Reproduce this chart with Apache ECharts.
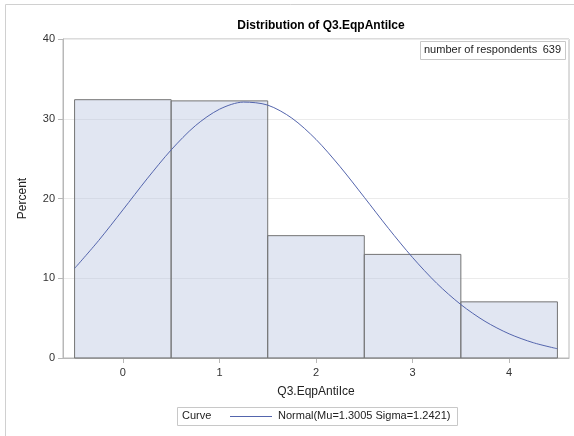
<!DOCTYPE html>
<html>
<head>
<meta charset="utf-8">
<script src="https://cdn.jsdelivr.net/npm/echarts@6/dist/echarts.min.js"></script>
<style>html,body{margin:0;padding:0;background:#fff}#c{width:574px;height:436px}</style>
</head>
<body>
<div id="c"></div>
<script>
var titleText = 'Distribution of Q3.EqpAntiIce';
var xTitle = 'Q3.EqpAntiIce';
var yTitle = 'Percent';
var categories = [0, 1, 2, 3, 4];
var percents = [32.39, 32.24, 15.34, 12.99, 7.04];
var curveX = [-0.5, -0.25, 0, 0.25, 0.5, 0.75, 1, 1.25, 1.5, 1.75, 2, 2.25, 2.5, 2.75, 3, 3.25, 3.5, 3.75, 4, 4.25, 4.5];
var curveY = [11.23, 14.74, 18.57, 22.46, 26.09, 29.12, 31.19, 32.09, 31.71, 30.08, 27.41, 23.98, 20.15, 16.26, 12.60, 9.37, 6.70, 4.60, 3.03, 1.92, 1.16];
var yTicks = [0, 10, 20, 30, 40];
var insetLabel = 'number of respondents';
var insetValue = '639';
var legendTitle = 'Curve';
var curveName = 'Normal(Mu=1.3005 Sigma=1.2421)';

var font = 'Liberation Sans, Arial, sans-serif';
var chart = echarts.init(document.getElementById('c'), null, {renderer: 'canvas'});

var barData = categories.map(function (c, i) { return [c, percents[i]]; });
var curveData = curveX.map(function (x, i) { return [x, curveY[i]]; });

chart.setOption({
  animation: false,
  backgroundColor: '#fff',
  title: {
    text: titleText, left: 316, top: 15, textAlign: 'center',
    textStyle: {fontFamily: font, fontSize: 12, fontWeight: 'bold', color: '#000'}
  },
  grid: {left: 63, right: 5, top: 39, bottom: 78, show: true, borderColor: '#b8b8b8', borderWidth: 1, backgroundColor: 'transparent'},
  xAxis: {
    type: 'value', min: -0.62, max: 4.62,
    name: xTitle, nameLocation: 'middle', nameGap: 28,
    nameTextStyle: {fontFamily: font, fontSize: 12, color: '#222'},
    axisLine: {show: true, onZero: false, lineStyle: {color: '#b8b8b8'}},
    axisTick: {show: true, length: 5, lineStyle: {color: '#b8b8b8'}, customValues: categories},
    axisLabel: {fontFamily: font, fontSize: 11, color: '#333', margin: 9, customValues: categories},
    splitLine: {show: false}
  },
  yAxis: {
    type: 'value', min: 0, max: 40, interval: 10,
    name: yTitle, nameLocation: 'middle', nameGap: 34, nameRotate: 90,
    nameTextStyle: {fontFamily: font, fontSize: 12, color: '#222'},
    axisLine: {show: true, onZero: false, lineStyle: {color: '#b8b8b8'}},
    axisTick: {show: true, length: 5, lineStyle: {color: '#b8b8b8'}, customValues: yTicks},
    axisLabel: {fontFamily: font, fontSize: 11, color: '#333', margin: 8, customValues: yTicks},
    splitLine: {show: true, lineStyle: {color: '#ebebeb', width: 1}}
  },
  series: [
    {
      type: 'custom', name: 'bars', data: barData, z: 2,
      renderItem: function (params, api) {
        var x = api.value(0), y = api.value(1);
        var p0 = api.coord([x - 0.5, y]);
        var p1 = api.coord([x + 0.5, 0]);
        return {
          type: 'rect',
          shape: {x: p0[0], y: p0[1], width: p1[0] - p0[0], height: p1[1] - p0[1]},
          style: {fill: 'rgba(180,193,222,0.4)', stroke: '#747474', lineWidth: 1}
        };
      }
    },
    {
      type: 'line', name: curveName, data: curveData, smooth: 0.3, showSymbol: false, z: 3,
      lineStyle: {color: '#5465ad', width: 1}
    }
  ],
  graphic: [
    {type: 'rect', shape: {x: 5.5, y: 4.5, width: 600, height: 600}, style: {fill: 'none', stroke: '#d0d0d0', lineWidth: 1}, silent: true, z: 0},
    {type: 'rect', shape: {x: 420.5, y: 41.5, width: 145, height: 18}, style: {fill: '#fff', stroke: '#c8c8c8', lineWidth: 1}, z: 10},
    {type: 'text', x: 424, y: 44, style: {text: insetLabel, font: '11px ' + font, fill: '#222'}, z: 11},
    {type: 'text', x: 561, y: 44, style: {text: insetValue, font: '11px ' + font, fill: '#222', textAlign: 'right'}, z: 11},
    {type: 'rect', shape: {x: 177.5, y: 407.5, width: 280, height: 18}, style: {fill: '#fff', stroke: '#c8c8c8', lineWidth: 1}, z: 10},
    {type: 'text', x: 182, y: 410, style: {text: legendTitle, font: '11px ' + font, fill: '#222'}, z: 11},
    {type: 'line', shape: {x1: 230, y1: 416.5, x2: 272, y2: 416.5}, style: {stroke: '#5465ad', lineWidth: 1}, z: 11},
    {type: 'text', x: 278, y: 410, style: {text: curveName, font: '11px ' + font, fill: '#222'}, z: 11}
  ]
});
</script>
</body>
</html>
